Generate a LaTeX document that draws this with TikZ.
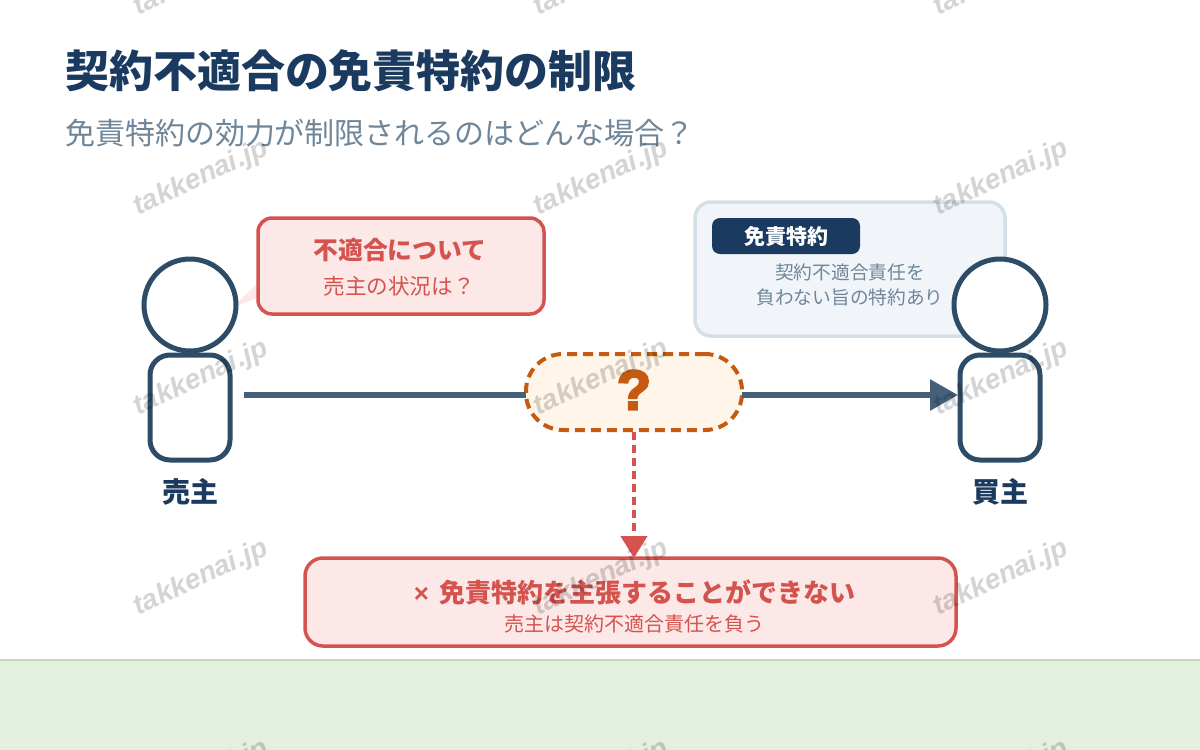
\documentclass[tikz,border=0pt]{standalone}
\usepackage{fontspec}
\setmainfont{Noto Sans CJK JP}
\newfontfamily\wmfont{Liberation Sans}
\newfontfamily\heavyfont[BoldFeatures={FakeBold=4}]{Liberation Sans}
\usetikzlibrary{arrows.meta}
\definecolor{navy}{HTML}{1B3A5F}
\definecolor{slate}{HTML}{2C4C68}
\definecolor{linecol}{HTML}{456179}
\definecolor{subcol}{HTML}{6F8699}
\definecolor{redc}{HTML}{D5534F}
\definecolor{pink}{HTML}{FCE8E6}
\definecolor{orangec}{HTML}{C55A11}
\definecolor{cream}{HTML}{FFF5E9}
\definecolor{paleblue}{HTML}{F1F5F9}
\definecolor{blueedge}{HTML}{D4E0E8}
\definecolor{bandfill}{HTML}{E4F0DF}
\definecolor{bandedge}{HTML}{C0D8BC}
\newcommand{\fsz}[1]{\fontsize{#1}{#1}\selectfont}
\tikzset{
  x=1pt,y=-1pt,
  every node/.style={inner sep=0pt,outer sep=0pt},
  headshape/.style={circle,draw=slate,line width=5pt,fill=white,minimum size=92pt},
  bodyshape/.style={rectangle,rounded corners=20pt,draw=slate,line width=5pt,fill=white,minimum width=80pt,minimum height=105pt},
  rolelabel/.style={text=navy,font=\fsz{28}\bfseries},
  redbox/.style={rectangle,draw=redc,line width=3.5pt,fill=pink},
  watermark/.style={text=black,opacity=0.17,rotate=25,font=\wmfont\fsz{28}\bfseries\itshape},
}
\begin{document}
\begin{tikzpicture}
\useasboundingbox (0,0) rectangle (1200,750);
\clip (0,0) rectangle (1200,750);
% band
\fill[bandfill] (0,659) rectangle (1200,750);
\draw[bandedge,line width=2pt] (0,659.5) -- (1200,659.5);
% title
\node[anchor=west,text=navy,font=\fsz{44}\bfseries] (title) at (65,71) {契約不適合の免責特約の制限};
\node[anchor=west,text=subcol,font=\fsz{30}] (subtitle) at (65,133) {免責特約の効力が制限されるのはどんな場合？};
% speech bubble
\fill[pink] (258,283) -- (233,307) -- (258,298) -- cycle;
\node[redbox,rounded corners=14pt,minimum width=286pt,minimum height=96pt] (bubble) at (401,266) {};
\node[text=redc,font=\fsz{24.8}\bfseries] (bubbleA) at (400,250) {不適合について};
\node[text=redc,font=\fsz{21.6}] (bubbleB) at (399,286) {売主の状況は？};
% clause box
\node[rectangle,rounded corners=16pt,draw=blueedge,line width=3.5pt,fill=paleblue,minimum width=310pt,minimum height=134pt] (clause) at (850,269) {};
\node[rectangle,rounded corners=8pt,fill=navy,minimum width=148pt,minimum height=36pt] (tag) at (786,236) {};
\node[text=white,font=\fsz{21}\bfseries] (tagtext) at (786,236) {免責特約};
\node[text=subcol,font=\fsz{18.7}] (clauseA) at (850,272) {契約不適合責任を};
\node[text=subcol,font=\fsz{18.7}] (clauseB) at (850,297) {負わない旨の特約あり};
% people
\node[bodyshape] (sellerbody) at (190,407.5) {};
\node[headshape] (sellerhead) at (190,305) {};
\node[rolelabel] (seller) at (190,492) {売主};
\node[bodyshape] (buyerbody) at (1000,407.5) {};
\node[headshape] (buyerhead) at (1000,305) {};
\node[rolelabel] (buyer) at (1000,492) {買主};
% question
\node[rectangle,rounded corners=37pt,draw=orangec,line width=4pt,fill=cream,dash pattern=on 10pt off 6pt,minimum width=216pt,minimum height=76pt] (ask) at (634,392) {};
\node[text=orangec,font=\heavyfont\fsz{56}\bfseries] (askmark) at (634,390) {?};
% result
\node[redbox,rounded corners=18pt,minimum width=651pt,minimum height=88pt] (result) at (630.5,602) {};
\node[text=redc,font=\fsz{26}\bfseries] (resultA) at (634.5,592) {{\wmfont ×}\hspace{10pt}免責特約を主張することができない};
\node[text=redc,font=\fsz{20}] (resultB) at (634,624) {売主は契約不適合責任を負う};
% connectors
\coordinate (linestart) at (244,395);
\draw[linecol,line width=6pt] (linestart) -- (linestart -| ask.west);
\draw[linecol,line width=6pt,shorten >=2pt,-{Triangle[length=28pt,width=30pt]}] (ask.east |- linestart) -- (buyerbody.west |- linestart);
\draw[redc,line width=4.5pt,dash pattern=on 8pt off 5pt,shorten <=2pt,-{Triangle[length=22pt,width=26pt]}] (ask.south) -- (result.north -| ask.south);
% watermarks
\foreach \i/\px/\py in {1/201/-22,2/601/-22,3/1001/-22,4/201/178,5/601/178,6/1001/178,7/201/378,8/601/378,9/1001/378,10/201/578,11/601/578,12/1001/578,13/201/778,14/601/778,15/1001/778}
  \node[watermark] (wm\i) at (\px,\py) {takkenai.jp};
\end{tikzpicture}
\end{document}
